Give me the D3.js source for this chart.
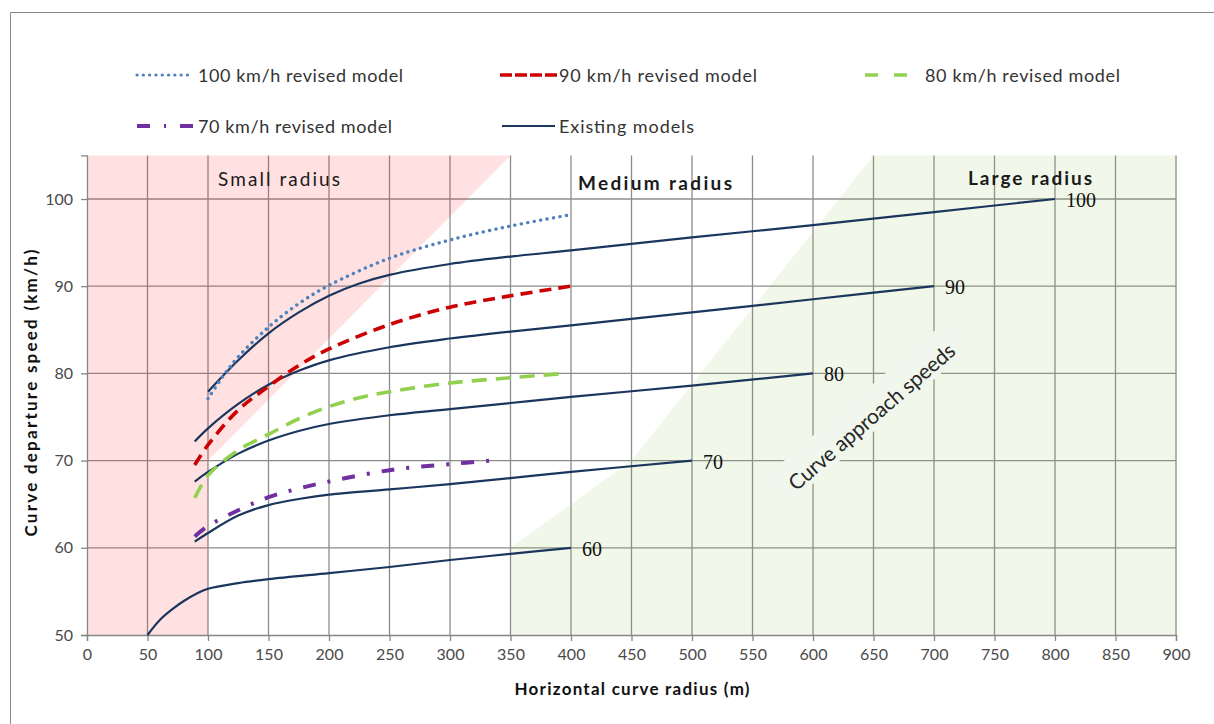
<!DOCTYPE html>
<html>
<head>
<meta charset="utf-8">
<script src="https://cdn.jsdelivr.net/npm/d3@7"></script>
<style>
  body { margin: 0; background: #fff; }
  svg { display: block; }
</style>
</head>
<body>
<svg id="chart" width="1214" height="724"></svg>
<script>
// ---- axis ticks ----
const xTickValues = d3.range(0, 901, 50);
const yTickValues = [50, 60, 70, 80, 90, 100];

// ---- existing models: [radius (m), departure speed (km/h)] ----
const existing100 = [[100,77.9],[125,81.5],[150,84.6],[175,87.0],[200,88.9],[225,90.3],[250,91.3],[300,92.55],[350,93.4],[400,94.1],[500,95.6],[600,97.0],[700,98.5],[800,100]];
const existing90  = [[89,72.2],[100,73.7],[125,76.5],[150,78.7],[175,80.3],[200,81.5],[250,83.0],[300,84.0],[350,84.8],[400,85.5],[500,87.0],[600,88.5],[700,90]];
const existing80  = [[89,67.6],[100,68.7],[125,70.8],[150,72.3],[175,73.4],[200,74.2],[250,75.2],[300,75.9],[400,77.3],[500,78.6],[600,80]];
const existing70  = [[89,60.7],[100,61.7],[125,63.7],[150,64.9],[175,65.6],[200,66.1],[250,66.7],[300,67.3],[400,68.7],[500,70]];
const existing60  = [[50,50],[60,51.7],[70,52.9],[80,53.9],[90,54.7],[100,55.3],[125,55.95],[150,56.4],[200,57.1],[250,57.8],[300,58.6],[350,59.3],[400,60]];
const existingLabels = ["100", "90", "80", "70", "60"];

// ---- revised models ----
const revised100 = [[100,77.1],[112,79.6],[125,81.9],[150,85.3],[175,88.0],[200,90.1],[250,93.2],[300,95.3],[350,96.9],[400,98.2]];
const revised90  = [[89,69.5],[100,71.8],[125,75.8],[150,78.5],[175,80.9],[200,82.8],[250,85.6],[300,87.6],[350,88.9],[400,90]];
const revised80  = [[89,65.7],[100,68.3],[125,71.2],[150,73.0],[175,74.8],[200,76.2],[225,77.2],[250,77.9],[300,78.9],[350,79.5],[395,80]];
const revised70  = [[89,61.3],[100,62.5],[125,64.3],[150,65.8],[175,66.8],[200,67.6],[250,68.9],[300,69.6],[335,70]];

// ---- radius zones ----
const smallZone = [[0,50],[100,50],[100,70],[350,105],[0,105]];
const largeZone = [[350,50],[350,60],[450,70],[650,105],[900,105],[900,50]];
const zoneNames = ["Small radius", "Medium radius", "Large radius"];

const legendNames = ["100 km/h revised model", "90 km/h revised model", "80 km/h revised model", "70 km/h revised model", "Existing models"];

const svg = d3.select("#chart");
const sans = "Lato, 'Open Sans', sans-serif";
const x = d3.scaleLinear().domain([0, 900]).range([87, 1176]);
const y = d3.scaleLinear().domain([50, 105]).range([635, 155.4]);

// outer chart border
svg.append("path").attr("d", "M10.5,724 V12.5 H1214")
  .attr("fill", "none").attr("stroke", "#8a8a8a").attr("stroke-width", 1);

// gridlines
const grid = svg.append("g").attr("stroke", "#8c8c8c").attr("stroke-width", 1.3);
grid.selectAll(".v").data(xTickValues.slice(1)).join("line")
  .attr("x1", d => x(d)).attr("x2", d => x(d))
  .attr("y1", y(105)).attr("y2", y(50));
grid.selectAll(".h").data(yTickValues.slice(1)).join("line")
  .attr("x1", x(0)).attr("x2", x(900))
  .attr("y1", d => y(d)).attr("y2", d => y(d));

// shaded zones
const zonePath = d3.line().x(d => x(d[0])).y(d => y(d[1]));
svg.append("path").attr("d", zonePath(smallZone) + "Z")
  .attr("fill", "#ff2a2a").attr("fill-opacity", 0.14);
svg.append("path").attr("d", zonePath(largeZone) + "Z")
  .attr("fill", "#8cc850").attr("fill-opacity", 0.12);

// axes
const xAxis = svg.append("g").attr("transform", `translate(0,${y(50)})`)
  .call(d3.axisBottom(x).tickValues(xTickValues).tickSize(6).tickPadding(8));
const yAxis = svg.append("g").attr("transform", `translate(${x(0)},0)`)
  .call(d3.axisLeft(y).tickValues(yTickValues).tickSize(6).tickPadding(8));
[xAxis, yAxis].forEach(g => {
  g.selectAll("path.domain").attr("stroke", "#868686").attr("stroke-width", 1.3);
  g.selectAll(".tick line").attr("stroke", "#868686").attr("stroke-width", 1.3);
  g.selectAll(".tick text").attr("fill", "#4a4a4a")
    .attr("font-family", sans).attr("font-size", 16);
});

// rotated note in the large-radius zone
const note = svg.append("g").attr("transform", "translate(871.7,416.7) rotate(-40.8)");
note.append("rect").attr("x", -125).attr("y", -24).attr("width", 250).attr("height", 36.5)
  .attr("fill", "#f1f7ec");
note.append("text").attr("x", 0).attr("y", -1)
  .attr("text-anchor", "middle").attr("dominant-baseline", "central")
  .attr("font-family", sans).attr("font-size", 21).attr("fill", "#262626")
  .attr("textLength", 212)
  .text("Curve approach speeds");

// zone names
const zoneLabelPos = [[279, 178, 400, 122], [655, 182, 700, 154], [1030, 177, 700, 124]];
svg.selectAll(".zone").data(zoneNames).join("text")
  .attr("x", (d, i) => zoneLabelPos[i][0]).attr("y", (d, i) => zoneLabelPos[i][1])
  .attr("text-anchor", "middle").attr("dominant-baseline", "central")
  .attr("font-family", sans).attr("font-size", 19)
  .attr("font-weight", (d, i) => zoneLabelPos[i][2])
  .attr("textLength", (d, i) => zoneLabelPos[i][3])
  .attr("fill", "#1a1a1a")
  .text(d => d);

// series lines
const line = d3.line().x(d => x(d[0])).y(d => y(d[1])).curve(d3.curveCatmullRom.alpha(0.5));
const navy = "#1b365d";
const existing = [existing100, existing90, existing80, existing70, existing60];
const revisedStyles = [
  { data: revised100, color: "#4f81bd", width: 3.4, dash: "0.1,6.4", cap: "round" },
  { data: revised90,  color: "#cc0000", width: 3.6, dash: "12,7",   cap: "butt" },
  { data: revised80,  color: "#92d050", width: 3.6, dash: "15,9",   cap: "butt" },
  { data: revised70,  color: "#7030a0", width: 4.0, dash: "13,12,3,12", cap: "butt" }
];

svg.selectAll(".existing").data(existing).join("path")
  .attr("d", line).attr("fill", "none")
  .attr("stroke", navy).attr("stroke-width", 2.2);

svg.selectAll(".revised").data(revisedStyles).join("path")
  .attr("d", d => line(d.data)).attr("fill", "none")
  .attr("stroke", d => d.color).attr("stroke-width", d => d.width)
  .attr("stroke-dasharray", d => d.dash).attr("stroke-linecap", d => d.cap);

// end labels of the existing models
svg.selectAll(".endlabel").data(existing).join("text")
  .attr("x", d => x(d[d.length - 1][0]) + 11)
  .attr("y", d => y(d[d.length - 1][1]) + 1)
  .attr("dominant-baseline", "central")
  .attr("font-family", "'Liberation Serif', 'Times New Roman', serif")
  .attr("font-size", 20).attr("fill", "#111")
  .text((d, i) => existingLabels[i]);

// legend
const legendItems = [
  { x: 137, y: 75, w: 51, color: "#4f81bd", width: 3.2, dash: "0.1,6.2", cap: "round", tx: 198, tl: 205 },
  { x: 500, y: 75, w: 57, color: "#cc0000", width: 3.6, dash: "12,3", cap: "butt", tx: 559, tl: 198 },
  { x: 865, y: 75, w: 43, color: "#92d050", width: 3.6, dash: "13,16", cap: "butt", tx: 925, tl: 195 },
  { x: 137, y: 126, w: 56, color: "#7030a0", width: 4.0, dash: "13,14,2,14", cap: "butt", tx: 198, tl: 194 },
  { x: 502, y: 126, w: 53, color: navy, width: 2.2, dash: null, cap: "butt", tx: 559, tl: 135 }
];
const legend = svg.append("g");
legend.selectAll("line").data(legendItems).join("line")
  .attr("x1", d => d.x).attr("x2", d => d.x + d.w)
  .attr("y1", d => d.y).attr("y2", d => d.y)
  .attr("stroke", d => d.color).attr("stroke-width", d => d.width)
  .attr("stroke-dasharray", d => d.dash).attr("stroke-linecap", d => d.cap);
legend.selectAll("text").data(legendItems).join("text")
  .attr("x", d => d.tx).attr("y", d => d.y)
  .attr("dominant-baseline", "central")
  .attr("font-family", sans).attr("font-size", 18).attr("fill", "#333")
  .attr("textLength", d => d.tl)
  .text((d, i) => legendNames[i]);

// axis titles
svg.append("text").attr("x", 632).attr("y", 688)
  .attr("text-anchor", "middle").attr("dominant-baseline", "central")
  .attr("font-family", sans).attr("font-size", 17).attr("font-weight", 700)
  .attr("fill", "#111").attr("textLength", 235)
  .text("Horizontal curve radius (m)");
svg.append("text").attr("transform", "translate(30,393) rotate(-90)")
  .attr("text-anchor", "middle").attr("dominant-baseline", "central")
  .attr("font-family", sans).attr("font-size", 17).attr("font-weight", 700)
  .attr("fill", "#111").attr("textLength", 287)
  .text("Curve departure speed (km/h)");
</script>
</body>
</html>
